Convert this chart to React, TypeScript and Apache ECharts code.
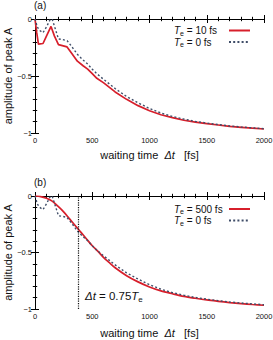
import React, { useEffect, useRef } from "react";
import * as echarts from "echarts";

// ---- data ----
const xMin = 0;
const xMax = 2000;
const xInterval = 500;
const yMin = -1;
const yMax = 0;
const yInterval = 0.5;

// T_e = 0 fs (reference curve, both panels)
const te0Time = [0, 20, 40, 70, 100, 130, 150, 175, 205, 240, 280, 320, 370, 420, 460, 500, 540, 600, 650, 700, 800, 900, 1000, 1100, 1200, 1300, 1400, 1500, 1600, 1700, 1800, 1900, 2000];
const te0Amp = [0, -0.07, -0.10, -0.12, -0.07, -0.01, 0, -0.08, -0.175, -0.18, -0.19, -0.24, -0.31, -0.36, -0.395, -0.44, -0.48, -0.53, -0.57, -0.61, -0.68, -0.735, -0.785, -0.825, -0.855, -0.878, -0.898, -0.913, -0.926, -0.938, -0.947, -0.955, -0.962];

// T_e = 10 fs (panel a)
const te10Time = [0, 15, 30, 70, 100, 140, 170, 205, 280, 320, 370, 420, 460, 500, 540, 600, 650, 700, 800, 900, 1000, 1100, 1200, 1300, 1400, 1500, 1600, 1700, 1800, 1900, 2000];
const te10Amp = [0, -0.12, -0.22, -0.215, -0.15, -0.065, -0.15, -0.225, -0.245, -0.30, -0.37, -0.41, -0.44, -0.48, -0.52, -0.56, -0.60, -0.64, -0.705, -0.76, -0.805, -0.84, -0.865, -0.888, -0.905, -0.918, -0.93, -0.942, -0.95, -0.958, -0.965];

// T_e = 500 fs (panel b)
const te500Time = [0, 50, 100, 150, 200, 250, 300, 375, 400, 450, 500, 550, 600, 650, 700, 800, 900, 1000, 1100, 1200, 1300, 1400, 1500, 1600, 1700, 1800, 1900, 2000];
const te500Amp = [0, -0.005, -0.02, -0.045, -0.09, -0.14, -0.2, -0.29, -0.32, -0.38, -0.44, -0.49, -0.545, -0.59, -0.635, -0.705, -0.76, -0.805, -0.84, -0.865, -0.888, -0.905, -0.92, -0.932, -0.943, -0.952, -0.96, -0.967];

// vertical marker Δt = 0.75 T_e (T_e = 500 fs)
const markerTime = 375;
const annotationAmp = -0.885;

const panelLabels = ["(a)", "(b)"];
const legendLabels: Record<string, string> = {
  te10: "{i|T}{s|e}{t| = 10 fs}",
  te0a: "{i|T}{s|e}{t| = 0 fs}",
  te500: "{i|T}{s|e}{t| = 500 fs}",
  te0b: "{i|T}{s|e}{t| = 0 fs}",
};

const FONT = "Liberation Sans, Arial, Helvetica, sans-serif";
const RED = "#d71f2b";
const DASH = "#3f4d68";

const zip = (xs: number[], ys: number[]) => xs.map((x, i) => [x, ys[i]]);

export default function App() {
  const ref = useRef<HTMLDivElement>(null);

  useEffect(() => {
    if (!ref.current) return;
    const chart = echarts.init(ref.current, null, { renderer: "svg" });

    const grids = [
      { left: 35, top: 19, width: 229, height: 114, outerBoundsMode: "none", containLabel: false },
      { left: 35, top: 196, width: 229, height: 113, outerBoundsMode: "none", containLabel: false },
    ];

    const tickCommon = {
      axisLine: { show: true, lineStyle: { color: "#000", width: 1 } },
      axisTick: { show: true, inside: true, length: 4, lineStyle: { color: "#000", width: 1 } },
      minorTick: { show: true, inside: true, splitNumber: 5, length: 2.2, lineStyle: { color: "#000", width: 1 } },
      splitLine: { show: false },
      minorSplitLine: { show: false },
    };

    const xNameRich = {
      n: { fontSize: 11, fontFamily: FONT, color: "#111" },
      i: { fontSize: 11, fontFamily: FONT, fontStyle: "italic", color: "#111" },
    };

    const xAxes: any[] = [];
    const yAxes: any[] = [];
    [0, 1].forEach((g) => {
      xAxes.push({
        type: "value",
        gridIndex: g,
        min: xMin,
        max: xMax,
        interval: xInterval,
        position: "bottom",
        ...tickCommon,
        axisLabel: {
          show: true,
          fontSize: 7.5,
          fontFamily: FONT,
          color: "#111",
          margin: 3,
          formatter: (v: number) => String(v),
        },
        name: "{n|waiting time  }{i|Δt}{n|   [fs]}",
        nameLocation: "middle",
        nameMoveOverlap: false,
        nameGap: g === 0 ? 16 : 18,
        nameTextStyle: { rich: xNameRich },
      });
      xAxes.push({
        type: "value",
        gridIndex: g,
        min: xMin,
        max: xMax,
        interval: xInterval,
        position: "top",
        ...tickCommon,
        axisLabel: { show: false },
      });
      yAxes.push({
        type: "value",
        gridIndex: g,
        min: yMin,
        max: yMax,
        interval: yInterval,
        position: "left",
        ...tickCommon,
        axisLabel: {
          show: true,
          fontSize: 7.5,
          fontFamily: FONT,
          color: "#111",
          margin: 3,
          formatter: (v: number) => String(v).replace("-", "\u2212"),
        },
        name: "amplitude of peak A",
        nameLocation: "middle",
        nameMoveOverlap: false,
        nameGap: 22,
        nameTextStyle: { fontSize: 11, fontFamily: FONT, color: "#111" },
      });
      yAxes.push({
        type: "value",
        gridIndex: g,
        min: yMin,
        max: yMax,
        interval: yInterval,
        position: "right",
        ...tickCommon,
        axisLabel: { show: false },
      });
    });

    const legendRich = {
      i: { fontSize: 10, fontFamily: FONT, fontStyle: "italic", color: "#111", lineHeight: 12, align: "left" },
      s: { fontSize: 7, fontFamily: FONT, color: "#111", lineHeight: 6, verticalAlign: "bottom", align: "left" },
      t: { fontSize: 10, fontFamily: FONT, color: "#111", lineHeight: 12, width: 40, align: "left" },
    };

    const mkLegend = (name: string, top: number) => ({
      data: [name],
      orient: "vertical",
      align: "right",
      right: 22,
      top,
      padding: 0,
      itemWidth: 21,
      itemHeight: 12,
      selectedMode: false,
      itemStyle: { opacity: 0 },
      formatter: (n: string) => legendLabels[n],
      textStyle: { rich: legendRich },
    });

    const option: any = {
      animation: false,
      backgroundColor: "#fff",
      title: panelLabels.map((t, i) => ({
        text: t,
        left: 34,
        top: i === 0 ? 0 : 177,
        padding: 0,
        textStyle: { fontSize: 10, fontWeight: "normal", fontFamily: FONT, color: "#111" },
      })),
      grid: grids,
      xAxis: xAxes,
      yAxis: yAxes,
      legend: [
        mkLegend("te10", 25.5),
        mkLegend("te0a", 37),
        mkLegend("te500", 204),
        mkLegend("te0b", 215.5),
      ],
      series: [
        {
          name: "te10",
          type: "line",
          xAxisIndex: 0,
          yAxisIndex: 0,
          data: zip(te10Time, te10Amp),
          symbol: "none",
          lineStyle: { color: RED, width: 1.7 },
          itemStyle: { color: RED },
        },
        {
          name: "te0a",
          type: "line",
          xAxisIndex: 0,
          yAxisIndex: 0,
          data: zip(te0Time, te0Amp),
          symbol: "none",
          lineStyle: { color: DASH, width: 1.4, type: [2, 2.2] },
          itemStyle: { color: DASH },
        },
        {
          name: "te500",
          type: "line",
          xAxisIndex: 2,
          yAxisIndex: 2,
          data: zip(te500Time, te500Amp),
          symbol: "none",
          smooth: 0.3,
          lineStyle: { color: RED, width: 1.7 },
          itemStyle: { color: RED },
          markLine: {
            silent: true,
            symbol: "none",
            label: { show: false },
            lineStyle: { color: "#111", width: 1.2, type: [1.2, 1.2] },
            data: [{ xAxis: markerTime }],
          },
          markPoint: {
            silent: true,
            symbol: "circle",
            symbolSize: 0,
            data: [{ coord: [markerTime, annotationAmp] }],
            label: {
              show: true,
              position: "right",
              distance: 7,
              formatter: "{i|Δt}{n| = 0.75}{i|T}{s|e}",
              rich: {
                i: { fontSize: 11.5, fontFamily: FONT, fontStyle: "italic", color: "#111", lineHeight: 14 },
                n: { fontSize: 11.5, fontFamily: FONT, color: "#111", lineHeight: 14 },
                s: { fontSize: 8, fontFamily: FONT, color: "#111", lineHeight: 7, verticalAlign: "bottom" },
              },
            },
          },
        },
        {
          name: "te0b",
          type: "line",
          xAxisIndex: 2,
          yAxisIndex: 2,
          data: zip(te0Time, te0Amp),
          symbol: "none",
          lineStyle: { color: DASH, width: 1.4, type: [2, 2.2] },
          itemStyle: { color: DASH },
        },
      ],
    };

    chart.setOption(option);
    return () => chart.dispose();
  }, []);

  return (
    <div
      ref={ref}
      style={{ position: "fixed", left: 0, top: 0, width: 273, height: 340, background: "#fff" }}
    />
  );
}
